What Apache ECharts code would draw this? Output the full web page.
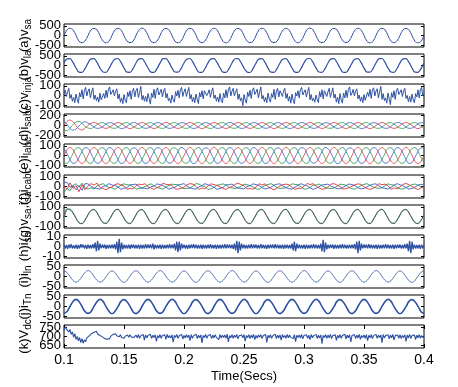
<!DOCTYPE html>
<html><head><meta charset="utf-8">
<script src="https://cdn.jsdelivr.net/npm/echarts@6/dist/echarts.min.js"></script>
<style>html,body{margin:0;padding:0;background:#fff}#c{width:458px;height:387px}</style>
</head><body><div id="c"></div>
<script>
// ---------- time axis (seconds) ----------
const T_START = 0.1, T_END = 0.4;
const STEP_COARSE = 0.0025, STEP_FINE = 0.001;

// ---------- (a) source voltage v_sa ----------
const vsa = [
0,290,380,300,10,-300,-375,-290,
-5,295,370,305,0,-290,-380,-300,
5,300,375,295,-5,-295,-370,-305,
0,290,385,300,5,-300,-375,-295,
-5,295,370,290,0,-305,-380,-300,
0,300,375,305,10,-295,-370,-290,
5,290,380,300,-5,-300,-385,-295,
0,295,370,295,0,-290,-375,-305,
-5,300,380,300,5,-300,-370,-300,
0,290,375,290,0,-295,-380,-290,
5,305,385,300,-5,-305,-375,-300,
0,295,370,305,0,-290,-370,-295,
-5,290,380,295,5,-300,-380,-300,
0,300,375,300,0,-295,-375,-290,
5,295,370,290,-5,-300,-385,-305,
0];
// ---------- (b) load voltage v_la ----------
const vla = [
130,345,360,160,-130,-345,-355,-160,
125,350,355,165,-135,-340,-360,-155,
135,340,365,160,-125,-350,-355,-165,
130,345,355,155,-130,-345,-360,-160,
125,355,360,165,-135,-340,-350,-160,
130,340,365,160,-130,-350,-360,-155,
135,345,355,160,-125,-345,-355,-165,
130,350,360,155,-130,-340,-365,-160,
125,345,355,165,-135,-350,-355,-160,
130,340,360,160,-130,-345,-360,-155,
135,350,365,160,-125,-340,-355,-165,
130,345,355,155,-130,-350,-360,-160,
125,340,360,165,-135,-345,-350,-160,
130,355,365,160,-130,-340,-360,-155,
135,345,355,160,-125,-350,-355,-165,
130];
// ---------- (c) injected voltage v_inja (fine step) ----------
const vinja = [
20,55,-10,40,75,-30,10,-60,-20,-75,15,-40,-80,30,-15,60,-35,50,85,-5,
45,70,-25,35,80,-40,5,-55,-15,-70,25,-45,-65,20,-30,55,-20,65,90,10,
30,60,-5,45,70,-35,15,-70,-25,-85,10,-50,-75,35,-10,50,-40,45,75,-15,
50,75,-20,30,95,-45,0,-60,-10,-65,20,-35,-90,25,-20,65,-30,55,80,5,
35,65,-15,50,75,-25,20,-55,-30,-80,5,-45,-70,40,-5,55,-25,60,85,-10,
40,70,-10,35,85,-35,10,-65,-20,-75,15,-40,-85,30,-15,50,-35,50,70,0,
25,60,-20,45,80,-30,5,-60,-15,-70,20,-50,-75,25,-25,60,-20,65,90,-5,
45,75,-5,40,70,-40,15,-55,-25,-105,10,-45,-80,35,-10,55,-30,55,80,10,
30,65,-25,35,90,-35,0,-65,-20,-75,25,-35,-70,20,-20,65,-40,45,75,-15,
50,70,-10,50,75,-30,20,-60,-10,-80,15,-50,-85,30,-5,50,-25,60,85,5,
35,60,-15,40,85,-45,10,-55,-30,-70,5,-40,-75,40,-15,60,-35,50,70,-10,
40,75,-20,30,80,-25,15,-70,-20,-85,20,-45,-80,25,-25,55,-20,65,90,0,
25,65,-5,45,70,-35,5,-60,-15,-75,10,-50,-70,35,-10,65,-30,55,80,-5,
45,70,-25,35,95,-40,20,-55,-25,-80,25,-35,-95,30,-20,50,-40,50,75,10,
30,60,-10,50,75,-30,0,-65,-10,-70,15,-45,-75,20,-15,60,-25,60,85,-5,
20];
// ---------- (d) source currents i_sabc ----------
const isa = [
0,80,110,75,0,-70,-90,-55,
5,45,62,40,-3,-44,-58,-40,
0,40,60,44,2,-42,-62,-42,
-3,43,58,41,0,-40,-60,-44,
2,42,62,42,-2,-43,-59,-41,
0,44,60,40,3,-42,-61,-42,
-2,41,59,43,0,-44,-60,-40,
3,42,61,42,-3,-41,-58,-43,
0,40,60,41,2,-42,-62,-42,
-2,43,58,44,0,-43,-60,-40,
2,42,62,40,-2,-40,-59,-42,
0,41,60,43,3,-44,-61,-41,
-3,44,59,42,0,-42,-60,-43,
2,40,61,41,-2,-41,-58,-42,
0,43,60,42,2,-43,-62,-40,
0];
const isb = [
-95,-105,-50,20,70,80,40,-20,
-50,-60,-28,17,54,57,31,-15,
-53,-56,-31,14,51,59,29,-17,
-51,-59,-29,16,53,56,30,-16,
-52,-57,-32,18,50,58,32,-14,
-54,-58,-30,15,52,60,28,-16,
-50,-60,-29,17,54,57,30,-18,
-52,-56,-31,16,51,58,31,-15,
-53,-59,-30,14,53,56,29,-16,
-51,-57,-28,16,52,59,30,-17,
-52,-58,-32,18,50,57,32,-14,
-54,-56,-30,15,53,58,28,-16,
-50,-59,-29,17,52,60,30,-15,
-52,-57,-31,16,54,56,31,-17,
-53,-58,-30,15,51,58,29,-16,
-52];
const isc = [
95,25,-60,-95,-70,-10,50,75,
50,15,-32,-57,-51,-17,29,57,
53,17,-29,-60,-53,-15,31,59,
51,16,-31,-56,-52,-16,30,58,
52,14,-30,-58,-50,-18,28,56,
54,17,-28,-59,-53,-15,32,58,
50,15,-31,-57,-52,-17,30,60,
52,16,-30,-58,-54,-16,29,57,
53,18,-29,-56,-51,-14,31,58,
51,15,-32,-59,-52,-17,30,59,
52,16,-30,-57,-53,-15,28,56,
54,14,-31,-58,-50,-16,32,58,
50,17,-29,-60,-52,-18,30,57,
52,15,-30,-56,-54,-15,29,59,
53,16,-31,-58,-51,-16,31,58,
52];
// ---------- (e) load currents i_labc ----------
const ila = [
0,60,85,60,0,-60,-85,-60,
2,61,84,59,-1,-61,-86,-59,
-1,59,86,61,1,-59,-84,-61,
0,60,85,60,2,-60,-85,-60,
1,62,84,58,0,-62,-86,-58,
-2,59,85,61,-1,-59,-85,-61,
0,61,86,60,1,-61,-84,-60,
1,60,84,59,0,-60,-85,-59,
-1,58,85,62,2,-58,-86,-62,
0,61,86,60,-1,-61,-85,-60,
2,60,84,59,0,-60,-84,-59,
-1,59,85,61,1,-59,-86,-61,
0,62,86,60,0,-62,-85,-60,
1,60,84,58,-2,-60,-84,-58,
-1,61,85,61,1,-61,-86,-61,
0];
const ilb = [
-74,-82,-42,22,74,82,42,-22,
-73,-83,-41,21,75,81,43,-23,
-75,-81,-43,23,73,83,41,-21,
-74,-82,-42,22,74,82,42,-22,
-72,-84,-40,20,76,80,44,-24,
-76,-80,-44,24,72,84,40,-20,
-74,-82,-42,22,74,82,42,-22,
-73,-83,-41,21,75,81,43,-23,
-75,-81,-43,23,73,83,41,-21,
-74,-82,-42,22,74,82,42,-22,
-72,-84,-40,20,76,80,44,-24,
-76,-80,-44,24,72,84,40,-20,
-74,-82,-42,22,74,82,42,-22,
-73,-83,-41,21,75,81,43,-23,
-75,-81,-43,23,73,83,41,-21,
-74];
const ilc = [
74,22,-42,-82,-74,-22,42,82,
75,21,-43,-81,-73,-23,41,83,
73,23,-41,-83,-75,-21,43,81,
74,22,-42,-82,-74,-22,42,82,
76,20,-44,-80,-72,-24,40,84,
72,24,-40,-84,-76,-20,44,80,
74,22,-42,-82,-74,-22,42,82,
75,21,-43,-81,-73,-23,41,83,
73,23,-41,-83,-75,-21,43,81,
74,22,-42,-82,-74,-22,42,82,
76,20,-44,-80,-72,-24,40,84,
72,24,-40,-84,-76,-20,44,80,
74,22,-42,-82,-74,-22,42,82,
75,21,-43,-81,-73,-23,41,83,
73,23,-41,-83,-75,-21,43,81,
74];
// ---------- (f) compensator currents i_cabc ----------
const ica = [
0,-30,40,-20,10,-55,20,-35,
5,30,15,35,-10,-20,-35,-15,
-5,20,30,15,5,-30,-20,-25,
8,25,18,30,-5,-15,-30,-10,
0,35,22,20,10,-25,-28,-20,
-8,18,30,25,0,-32,-15,-22,
5,28,20,12,-6,-18,-30,-12,
0,22,35,20,8,-25,-22,-28,
-5,30,15,28,0,-20,-35,-15,
6,20,25,18,-8,-30,-18,-20,
0,32,20,30,5,-15,-28,-25,
-6,25,30,15,0,-28,-22,-12,
4,18,28,22,-5,-22,-30,-20,
0,30,18,25,8,-30,-15,-25,
-4,22,32,18,0,-18,-32,-15,
0];
const icb = [
-60,-20,-45,10,30,-5,35,-15,
-25,-15,-28,8,18,30,5,-10,
-15,-30,-8,15,28,18,15,-2,
-28,-20,-15,0,15,28,8,-12,
-18,-28,-5,12,25,20,18,-8,
-22,-18,-18,5,30,25,6,0,
-30,-25,-10,14,18,28,15,-10,
-15,-20,-15,2,25,18,10,-5,
-25,-30,-6,10,20,30,12,-12,
-20,-18,-14,6,28,22,18,-3,
-28,-25,-10,15,15,26,8,-8,
-18,-22,-16,2,25,20,14,-10,
-24,-28,-8,10,22,30,10,-4,
-16,-20,-14,8,28,18,16,-8,
-26,-25,-10,4,20,26,12,-6,
-22];
const icc = [
40,45,-10,10,-35,10,-40,30,
28,2,-15,-20,-28,0,10,30,
15,10,-5,-30,-18,-12,18,20,
25,0,-18,-18,-26,-2,5,28,
18,12,-10,-28,-15,-8,15,22,
30,4,-14,-22,-28,-4,10,30,
16,8,-8,-30,-20,-10,18,18,
26,0,-16,-20,-25,0,8,28,
20,10,-12,-26,-18,-8,14,24,
28,4,-10,-24,-28,-6,12,30,
15,8,-15,-30,-20,-2,16,20,
25,2,-8,-22,-24,-10,10,26,
20,10,-14,-26,-18,-4,14,24,
28,4,-12,-20,-26,-8,12,30,
18,6,-10,-28,-20,-6,16,22,
22];
// ---------- (g) scaled v_sa and i_sa ----------
const vsaScaled = [
-10,80,70,35,-20,-66,-73,-36,
20,64,72,38,-18,-65,-71,-37,
19,66,73,36,-20,-64,-72,-38,
18,65,71,37,-19,-66,-73,-36,
20,64,72,38,-18,-65,-72,-37,
19,66,73,36,-20,-64,-71,-38,
18,65,72,37,-19,-66,-72,-36,
20,64,71,38,-18,-65,-73,-37,
19,66,72,36,-20,-64,-72,-38,
18,65,73,37,-19,-66,-71,-36,
20,64,72,38,-18,-65,-72,-37,
19,66,71,36,-20,-64,-73,-38,
18,65,72,37,-19,-66,-72,-36,
20,64,73,38,-18,-65,-71,-37,
19,66,72,36,-20,-64,-72,-38,
19];
const isaG = [
-25,70,78,44,-14,-61,-77,-41,
16,59,76,43,-16,-60,-75,-42,
14,61,77,41,-15,-59,-76,-43,
15,60,75,42,-14,-61,-77,-41,
16,59,76,43,-16,-60,-76,-42,
14,61,77,41,-15,-59,-75,-43,
15,60,76,42,-14,-61,-76,-41,
16,59,75,43,-16,-60,-77,-42,
14,61,76,41,-15,-59,-76,-43,
15,60,77,42,-14,-61,-75,-41,
16,59,76,43,-16,-60,-76,-42,
14,61,75,41,-15,-59,-77,-43,
15,60,76,42,-14,-61,-76,-41,
16,59,77,43,-16,-60,-75,-42,
14,61,76,41,-15,-59,-76,-43,
15];
// ---------- (h) source neutral current i_sn (fine step) ----------
const isn = [
2,-2,1.5,-2.5,2,-1.5,2.5,-2,1,-2,2,-2.5,1.5,-2,2.5,-1,2,-2,1.5,-2.5,
2,-2,1.5,-2,2.5,-2,4,-5,6,-4,3,-2,2,-1.5,2,-2.5,1.5,-2,2,-2,
2,-2,2.5,-3,5,-7,8,-6,4,-3,2,-2,1.5,-2,2,-2.5,2,-1.5,2,-2,
1.5,-2,2,-2.5,2,-2,1.5,-2,2.5,-2,2,-1.5,2,-2,3,-3,2,-2,1.5,-2,
2,-2.5,2,-2,1.5,-2,2,-2,2.5,-2,2,-2,3,-4,5,-6,5,-4,3,-2,
2,-2,1.5,-2.5,2,-2,2,-1.5,2.5,-2,2,-2,1.5,-2,2,-2.5,2,-2,1.5,-2,
2,-2,2.5,-2,1.5,-2,2,-2.5,2,-2,1.5,-2,2,-2,2.5,-2,2,-1.5,2,-2,
2,-2.5,3,-4,6,-7,5,-4,3,-2,2,-2,1.5,-2,2,-2,2.5,-2,2,-1.5,
2,-2,1.5,-2,2.5,-2,2,-2,1.5,-2.5,2,-2,2,-1.5,2,-2,2.5,-2,2,-2,
1.5,-2,2,-2.5,2,-2,2,-2,1.5,-2,3,-4,5,-5,3,-2,2,-2,1.5,-2,
2,-2.5,2,-2,1.5,-2,2,-2,2.5,-2,2,-2,1.5,-2,3,-5,7,-6,4,-3,
2,-2,2,-1.5,2,-2.5,2,-2,1.5,-2,2,-2,2.5,-2,2,-2,1.5,-2,2,-2,
2,-2,2.5,-3,5,-7,6,-4,3,-2,2,-1.5,2,-2,2.5,-2,2,-2,1.5,-2,
2,-2.5,2,-2,1.5,-2,2,-2,2.5,-2,2,-2,1.5,-2,2,-2.5,2,-2,2,-1.5,
2,-2,1.5,-2,2.5,-2,3,-5,6,-7,5,-3,2,-2,1.5,-2,2,-2.5,2,-2,
2];
// ---------- (i) load neutral current i_ln ----------
const iln = [
30,21,0,-21,-30,-21,0,21,
31,22,1,-20,-29,-22,-1,20,
29,20,-1,-22,-31,-20,1,22,
30,21,0,-21,-30,-21,0,21,
31,22,1,-20,-29,-22,-1,20,
29,20,-1,-22,-31,-20,1,22,
30,21,0,-21,-30,-21,0,21,
31,22,1,-20,-29,-22,-1,20,
29,20,-1,-22,-31,-20,1,22,
30,21,0,-21,-30,-21,0,21,
31,22,1,-20,-29,-22,-1,20,
29,20,-1,-22,-31,-20,1,22,
30,21,0,-21,-30,-21,0,21,
31,22,1,-20,-29,-22,-1,20,
29,20,-1,-22,-31,-20,1,22,
30];
// ---------- (j) transformer neutral current i_Tn ----------
const iTn = [
-37,-26,0,26,37,26,0,-26,
-36,-27,1,25,38,27,-1,-25,
-38,-25,-1,27,36,25,1,-27,
-37,-26,0,26,37,26,0,-26,
-36,-27,1,25,38,27,-1,-25,
-38,-25,-1,27,36,25,1,-27,
-37,-26,0,26,37,26,0,-26,
-36,-27,1,25,38,27,-1,-25,
-38,-25,-1,27,36,25,1,-27,
-37,-26,0,26,37,26,0,-26,
-36,-27,1,25,38,27,-1,-25,
-38,-25,-1,27,36,25,1,-27,
-37,-26,0,26,37,26,0,-26,
-36,-27,1,25,38,27,-1,-25,
-38,-25,-1,27,36,25,1,-27,
-37];
// ---------- (k) DC bus voltage V_dc (fine step) ----------
const vdc = [
737,755,742,750,726,740,712,726,696,716,684,700,676,694,666,688,662,682,670,692,
686,704,698,716,708,724,716,730,714,724,706,716,698,704,688,698,684,694,688,702,
696,712,702,716,704,714,698,710,694,704,690,702,692,708,696,710,698,708,694,704,
708,693,711,690,704,696,712,680,709,692,706,695,713,689,707,694,710,672,705,693,
711,690,706,696,709,684,712,693,705,691,710,668,707,695,711,690,704,697,712,686,
706,692,710,694,708,676,711,690,705,696,713,689,707,693,709,664,706,694,712,690,
705,697,711,688,708,692,710,695,706,682,712,691,707,694,709,689,713,670,705,693,
710,690,707,695,712,687,705,696,709,692,711,674,706,694,710,688,708,693,712,683,
706,691,709,695,711,689,704,697,712,666,707,693,710,690,705,696,713,688,707,692,
709,679,711,694,706,690,712,693,708,695,705,688,711,671,707,694,709,691,712,687,
706,695,710,690,708,682,711,693,705,697,712,689,707,692,709,660,706,694,711,690,
708,693,712,688,705,696,710,678,707,692,711,690,706,695,713,686,708,693,710,669,
705,697,711,689,708,692,712,684,706,694,709,690,711,676,707,693,710,688,705,696,
712,690,707,694,709,665,711,692,706,695,710,687,708,693,712,680,705,696,709,690,
711,688,706,694,710,673,708,692,712,689,705,697,709,683,707,693,711,690,706,694,
700];

// ---------- tick labels ----------
const ticksA = [-500, 0, 500];
const ticksC = [-100, 0, 100];
const ticksD = [-200, 0, 200];
const ticksH = [-10, 0, 10];
const ticksI = [-50, 0, 50];
const ticksK = [650, 700, 750];

// ---------- styling ----------
const BLUE = '#2d50a2', RED = '#e0353a', GREEN = '#2f9a52', PBLUE = '#3a5fc8';
const FONT = "'Liberation Sans Narrow','Arial Narrow','Liberation Sans',Arial,sans-serif";
const NFONT = "'Liberation Sans',Arial,sans-serif";

function timeOf(n, step){ const a=[]; for(let i=0;i<n;i++) a.push(+(T_START+i*step).toFixed(4)); return a; }
function pts(vals, step){ const t = timeOf(vals.length, step); return vals.map((v,i)=>[t[i], v]); }

const panels = [
 {name:'{m|(a)v}{s|sa}', min:-600, max:600, ticks:ticksA, s:[{d:vsa, st:STEP_COARSE, c:BLUE, w:1, sm:true}]},
 {name:'{m|(b)v}{s|la}', min:-600, max:600, ticks:ticksA, s:[{d:vla, st:STEP_COARSE, c:BLUE, w:1.2, sm:true}]},
 {name:'{m|(c)v}{s|inja}', min:-120, max:120, ticks:ticksC, s:[{d:vinja, st:STEP_FINE, c:BLUE, w:1, sm:false}]},
 {name:'{m|(d)i}{s|sabc}', min:-230, max:230, ticks:ticksD, s:[{d:isa, st:STEP_COARSE, c:RED, w:0.8, sm:true},{d:isb, st:STEP_COARSE, c:GREEN, w:0.8, sm:true},{d:isc, st:STEP_COARSE, c:PBLUE, w:0.8, sm:true}]},
 {name:'{m|(e)i}{s|labc}', min:-120, max:120, ticks:ticksC, s:[{d:ila, st:STEP_COARSE, c:RED, w:0.8, sm:true},{d:ilb, st:STEP_COARSE, c:GREEN, w:0.8, sm:true},{d:ilc, st:STEP_COARSE, c:PBLUE, w:0.8, sm:true}]},
 {name:'{m|(f)i}{s|cabc}', min:-120, max:120, ticks:ticksC, s:[{d:icb, st:STEP_COARSE, c:GREEN, w:0.9, sm:false},{d:icc, st:STEP_COARSE, c:PBLUE, w:0.9, sm:false},{d:ica, st:STEP_COARSE, c:RED, w:0.9, sm:false}]},
 {name:'{m|(g)v}{s|sa}{m|,i}{s|sa}', min:-120, max:120, ticks:ticksC, s:[{d:isaG, st:STEP_COARSE, c:'#3fa58a', w:1, sm:true},{d:vsaScaled, st:STEP_COARSE, c:'#555555', w:1, sm:true}]},
 {name:'{m|(h)i}{s|sn}', min:-12, max:12, ticks:ticksH, s:[{d:isn, st:STEP_FINE, c:BLUE, w:1.3, sm:false}]},
 {name:'{m|(i)i}{s|ln}', min:-60, max:60, ticks:ticksI, s:[{d:iln, st:STEP_COARSE, c:BLUE, w:0.8, sm:true}]},
 {name:'{m|(j)i}{s|Tn}', min:-60, max:60, ticks:ticksI, s:[{d:iTn, st:STEP_COARSE, c:BLUE, w:1.6, sm:true}]},
 {name:'{m|(k)V}{s|dc}', min:635, max:765, ticks:ticksK, s:[{d:vdc, st:STEP_FINE, c:BLUE, w:1.1, sm:false}]}
];

const grids=[], xAxes=[], yAxes=[], series=[];
const tickLine = {color:'#000', width:1};
const plain = {axisLine:{show:false}, splitLine:{show:false}};
panels.forEach((p,i)=>{
  const last = i === panels.length-1;
  grids.push({left:64, width:360, top: Math.round(24 + 30.1*i), height:23, show:true, borderColor:'#000', borderWidth:1, backgroundColor:'transparent'});
  xAxes.push(Object.assign({gridIndex:i, type:'value', min:T_START, max:T_END, interval:0.05,
    axisTick:{show:last, inside:true, length:4, lineStyle:tickLine},
    axisLabel:{show:last, margin:5, color:'#000', fontFamily:FONT, fontSize:14, formatter:v=>String(+v.toFixed(2))},
    name: last ? 'Time(Secs)' : '', nameLocation:'middle', nameGap:22,
    nameTextStyle:{color:'#000', fontFamily:FONT, fontSize:13}}, plain));
  const mainIdx = yAxes.length;
  yAxes.push(Object.assign({gridIndex:i, type:'value', min:p.min, max:p.max, position:'left',
    axisTick:{show:true, inside:true, length:3, customValues:p.ticks, lineStyle:tickLine},
    axisLabel:{show:false},
    name:p.name, nameLocation:'middle', nameRotate:90, nameGap:31,
    nameTextStyle:{color:'#000', rich:{
      m:{fontFamily:NFONT, fontSize:13, color:'#000'},
      s:{fontFamily:NFONT, fontSize:10, color:'#000', verticalAlign:'bottom', padding:[7,0,0,0]}}}}, plain));
  yAxes.push(Object.assign({gridIndex:i, type:'value', min:p.min, max:p.max, position:'right',
    axisTick:{show:true, inside:true, length:3, customValues:p.ticks, lineStyle:tickLine},
    axisLabel:{show:false}}, plain));
  // one label axis per tick so overlapping labels are all drawn (as in the original)
  p.ticks.forEach(v=>{
    yAxes.push(Object.assign({gridIndex:i, type:'value', min:p.min, max:p.max, position:'left',
      axisTick:{show:false},
      axisLabel:{customValues:[v], margin:3, color:'#000', fontFamily:FONT, fontSize:13, hideOverlap:false}}, plain));
  });
  p.s.forEach(s=>{
    series.push({type:'line', xAxisIndex:i, yAxisIndex:mainIdx, data:pts(s.d, s.st), symbol:'none',
      smooth:s.sm ? 0.35 : false, lineStyle:{color:s.c, width:s.w}, clip:true, silent:true});
  });
});
// top ticks on the last panel
xAxes.push(Object.assign({gridIndex:panels.length-1, type:'value', min:T_START, max:T_END, interval:0.05, position:'top',
  axisLabel:{show:false}, axisTick:{show:true, inside:true, length:4, lineStyle:tickLine}}, plain));

const chart = echarts.init(document.getElementById('c'), null, {renderer:'canvas'});
chart.setOption({animation:false, backgroundColor:'#fff', grid:grids, xAxis:xAxes, yAxis:yAxes, series:series});
</script>
</body></html>
